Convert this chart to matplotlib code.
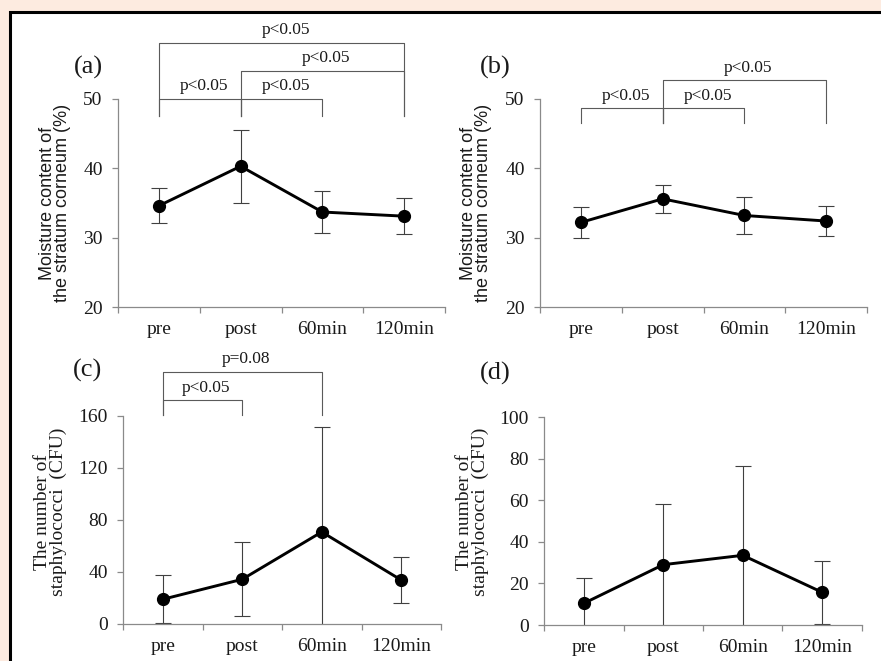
import matplotlib.pyplot as plt
from matplotlib.patches import Rectangle

# time points
times = ['pre', 'post', '60min', '120min']

# (a) / (b) moisture content of the stratum corneum (%), mean and SD
moist_a_mean = [34.6, 40.3, 33.7, 33.1]
moist_a_sd = [2.5, 5.3, 3.0, 2.6]
moist_b_mean = [32.2, 35.6, 33.2, 32.4]
moist_b_sd = [2.2, 2.0, 2.6, 2.1]

# (c) / (d) number of staphylococci (CFU), mean and SD
staph_c_mean = [19.0, 34.4, 70.8, 33.8]
staph_c_sd = [18.5, 28.3, 80.5, 17.8]
staph_d_mean = [10.4, 29.0, 33.5, 15.7]
staph_d_sd = [12.3, 29.3, 43.0, 15.2]

# significance comparisons (index of time point, 1-based)
sig_a = [(1, 2, 'p<0.05'), (2, 3, 'p<0.05'), (2, 4, 'p<0.05'), (1, 4, 'p<0.05')]
sig_b = [(1, 2, 'p<0.05'), (2, 3, 'p<0.05'), (2, 4, 'p<0.05')]
sig_c = [(1, 2, 'p<0.05'), (1, 3, 'p=0.08')]

SERIF = 'Liberation Serif'
SANS = 'Liberation Sans'
AXIS_GRAY = '#8a8a8a'
BRACKET_GRAY = '#5a5a5a'
TEXT = '#1a1a1a'

W, H = 881, 661
fig = plt.figure(figsize=(W / 100, H / 100), dpi=100, facecolor='#fdebe0')

# white panel with black frame
frame = Rectangle((10 / W, -0.1), 1.2, 1 - 12 / H + 0.1, transform=fig.transFigure,
                  facecolor='white', edgecolor='black', lw=2.2, zorder=-5)
fig.add_artist(frame)


def px_rect(left, right, top, bottom):
    return [left / W, 1 - bottom / H, (right - left) / W, (bottom - top) / H]


def panel(rect, mean, sd, ylim, yticks):
    ax = fig.add_axes(rect, facecolor='none')
    x = list(range(1, len(times) + 1))
    ax.errorbar(x, mean, yerr=sd, fmt='none', ecolor='#404040', elinewidth=0.8,
                capsize=5.5, capthick=0.8, zorder=2)
    ax.plot(x, mean, color='black', lw=2.1, marker='o', ms=8.5, zorder=3)
    ax.set_xlim(0.5, 4.5)
    ax.set_ylim(*ylim)
    ax.set_yticks(yticks)
    ax.set_xticks([0.5, 1.5, 2.5, 3.5, 4.5])
    ax.set_xticklabels([])
    ax.set_xticks(x, minor=True)
    ax.set_xticklabels(times, minor=True)
    for s in ['top', 'right']:
        ax.spines[s].set_visible(False)
    for s in ['left', 'bottom']:
        ax.spines[s].set_color(AXIS_GRAY)
        ax.spines[s].set_linewidth(0.9)
    ax.tick_params(axis='x', which='major', length=4.5, width=0.9, color=AXIS_GRAY)
    ax.tick_params(axis='x', which='minor', length=0, pad=10)
    ax.tick_params(axis='y', length=4, width=0.9, color=AXIS_GRAY, pad=7)
    for lab in ax.get_xticklabels(minor=True) + ax.get_yticklabels():
        lab.set_family(SERIF)
        lab.set_fontsize(14)
        lab.set_color(TEXT)
    return ax


def brackets(ax, comps, levels, leg):
    for (i, j, txt), y in zip(comps, levels):
        ax.plot([i, i, j, j], [leg, y, y, leg], color=BRACKET_GRAY, lw=0.8,
                clip_on=False, zorder=1)
        ax.annotate(txt, xy=((i + j) / 2 + 0.05, y), xytext=(0, 9),
                    textcoords='offset points', ha='center', va='center',
                    fontsize=12.5, family=SERIF, color=TEXT, annotation_clip=False)


ax_a = panel(px_rect(118, 445, 99, 307), moist_a_mean, moist_a_sd, (20, 50), [20, 30, 40, 50])
ax_b = panel(px_rect(540, 867, 99, 307), moist_b_mean, moist_b_sd, (20, 50), [20, 30, 40, 50])
ax_c = panel(px_rect(123, 441, 416, 624), staph_c_mean, staph_c_sd, (0, 160), [0, 40, 80, 120, 160])
ax_d = panel(px_rect(544, 862, 417, 625), staph_d_mean, staph_d_sd, (0, 100), [0, 20, 40, 60, 80, 100])

brackets(ax_a, sig_a, [50, 50, 54.1, 58.1], 47.6)
brackets(ax_b, sig_b, [48.7, 48.7, 52.7], 46.6)
brackets(ax_c, sig_c, [172, 194], 160.5)

moist_label = 'Moisture content of\nthe stratum corneum (%)'
staph_label = 'The number of\nstaphylococci  (CFU)'
ax_a.text(-0.193, 0.5, moist_label, transform=ax_a.transAxes, rotation=90, ha='center',
          va='center', fontsize=13, family=SANS, color=TEXT, linespacing=0.9)
ax_b.text(-0.196, 0.5, moist_label, transform=ax_b.transAxes, rotation=90, ha='center',
          va='center', fontsize=13, family=SANS, color=TEXT, linespacing=0.9)
ax_c.text(-0.228, 0.54, staph_label, transform=ax_c.transAxes, rotation=90, ha='center',
          va='center', fontsize=14, family=SERIF, color=TEXT, linespacing=0.85)
ax_d.text(-0.225, 0.545, staph_label, transform=ax_d.transAxes, rotation=90, ha='center',
          va='center', fontsize=14, family=SERIF, color=TEXT, linespacing=0.85)

for lab, (px, py) in zip(['(a)', '(b)', '(c)', '(d)'],
                         [(88, 67), (495, 67), (88, 370), (495, 373)]):
    fig.text(px / W, 1 - py / H, lab, ha='center', va='center', fontsize=19,
             family=SERIF, color=TEXT)

fig.savefig('out.png', dpi=100, facecolor=fig.get_facecolor())
